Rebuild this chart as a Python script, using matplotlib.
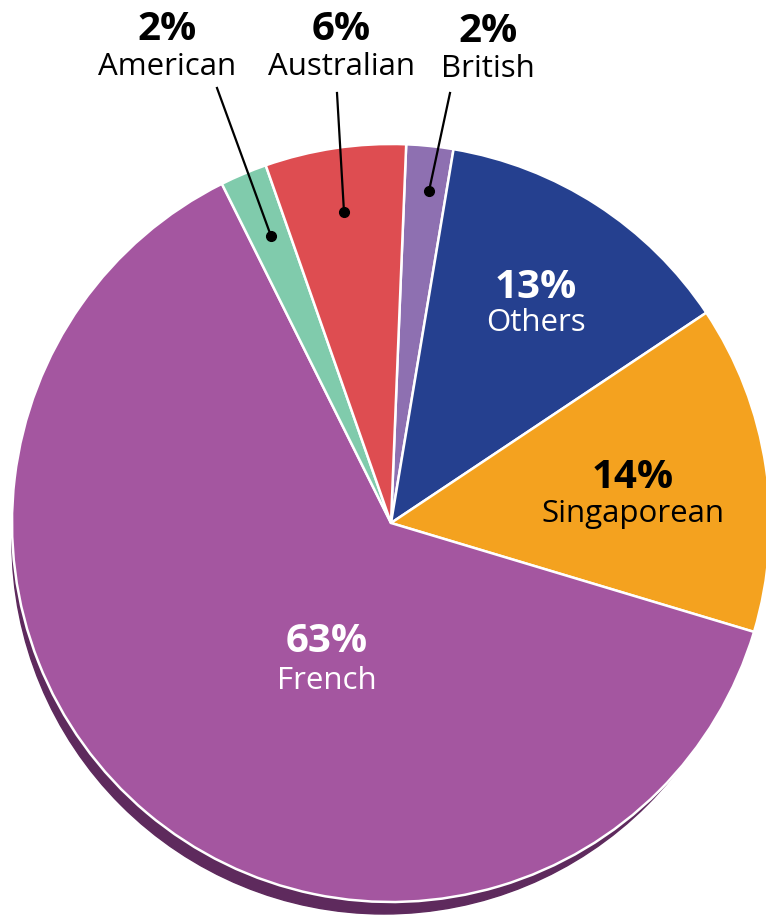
import numpy as np
import matplotlib.pyplot as plt
from matplotlib.patches import Circle

# ---- data (clockwise from the top) ----
labels = ["British", "Others", "Singaporean", "French", "American", "Australian"]
values = [2, 13, 14, 63, 2, 6]
colors = ["#8e70b1", "#25408f", "#f4a21f", "#a456a0", "#80cbac", "#de4d51"]

plt.rcParams['font.family'] = ['Open Sans', 'DejaVu Sans']

W, H = 766, 917
fig = plt.figure(figsize=(W / 100, H / 100), dpi=100)
ax = fig.add_axes([0, 0, 1, 1])

def py(y):
    # pixel row (from top) -> data y
    return H - y

cx, cy, R = 391, py(523), 379

# shadow under the pie
ax.add_patch(Circle((cx - 7, cy - 19), R - 7, color="#5e2a5d", zorder=0))

ax.pie(values, colors=colors, startangle=87.7, counterclock=False,
       center=(cx, cy), radius=R, frame=True,
       wedgeprops=dict(edgecolor="white", linewidth=1.8))
for w in ax.patches[1:]:
    w.set_zorder(1)

ax.set_xlim(0, W)
ax.set_ylim(0, H)
ax.set_aspect("equal")
ax.axis("off")

pct_size = 29
name_size = 22.5

def label(x, ypct, yname, pct, name, color):
    ax.text(x, py(ypct), pct, ha="center", va="center", fontsize=pct_size,
            fontweight="bold", color=color, zorder=5)
    ax.text(x, py(yname), name, ha="center", va="center", fontsize=name_size,
            color=color, zorder=5)

vals = dict(zip(labels, values))
# outside labels
label(167, 30, 67, "%d%%" % vals["American"], "American", "black")
label(341, 30, 67, "%d%%" % vals["Australian"], "Australian", "black")
label(488, 32, 69, "%d%%" % vals["British"], "British", "black")
# inside labels
label(536, 288, 323, "%d%%" % vals["Others"], "Others", "white")
label(633, 477, 514, "%d%%" % vals["Singaporean"], "Singaporean", "black")
label(327, 641, 681, "%d%%" % vals["French"], "French", "white")

# leader lines
leaders = [((217, 88), (271, 236)), ((337, 93), (344, 212)), ((450, 93), (429, 191))]
for (x0, y0), (x1, y1) in leaders:
    ax.plot([x0, x1], [py(y0), py(y1)], color="black", lw=1.6, zorder=6)
    ax.plot(x1, py(y1), "o", color="black", ms=7, zorder=6)

fig.savefig("out.png", dpi=100)
